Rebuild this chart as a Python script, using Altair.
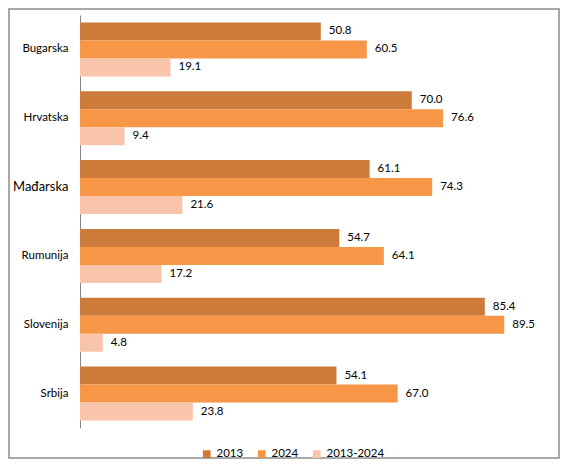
import altair as alt
import pandas as pd

# values
countries = ["Bugarska", "Hrvatska", "Mađarska", "Rumunija", "Slovenija", "Srbija"]
series = ["2013", "2024", "2013-2024"]
v2013 = [50.8, 70.0, 61.1, 54.7, 85.4, 54.1]
v2024 = [60.5, 76.6, 74.3, 64.1, 89.5, 67.0]
vdiff = [19.1, 9.4, 21.6, 17.2, 4.8, 23.8]
colors = ["#CD7B3A", "#F79646", "#F9C4A9"]

rows = []
for i, c in enumerate(countries):
    for s, vals in zip(series, [v2013, v2024, vdiff]):
        rows.append({"Country": c, "Series": s, "Value": vals[i]})
df = pd.DataFrame(rows)

font = "Lato"

base = alt.Chart(df).encode(
    y=alt.Y("Country:N", sort=countries, title=None,
            scale=alt.Scale(paddingInner=0.215, paddingOuter=0.1075),
            axis=alt.Axis(ticks=False, domainColor="#888888", domainWidth=1,
                          labelPadding=12, labelFont=font, labelColor="#000000",
                          labelFontSize={"condition": {"test": "datum.value == 'Mađarska'", "value": 13},
                                         "value": 11.5})),
    yOffset=alt.YOffset("Series:N", sort=series),
)

bars = base.mark_bar().encode(
    x=alt.X("Value:Q", scale=alt.Scale(domain=[0, 100]), axis=None),
    color=alt.Color("Series:N", sort=series,
                    scale=alt.Scale(domain=series, range=colors),
                    legend=alt.Legend(title=None, orient="none", direction="horizontal",
                                      legendX=121, legendY=433, symbolType="square",
                                      symbolSize=60, symbolStrokeWidth=0,
                                      labelFont=font, labelFontSize=11.5,
                                      labelColor="#000000", columnPadding=12,
                                      labelOffset=4)),
)

labels = base.mark_text(align="left", baseline="middle", dx=8, font=font,
                        fontSize=11.5, color="#000000").encode(
    x=alt.X("Value:Q"),
    text=alt.Text("Value:Q", format=".1f"),
)

# grey frame round the whole chart
frame = alt.Chart(alt.Data(values=[{}])).mark_rect(
    fill=None, stroke="#8C8C8C", strokeWidth=1.5
).encode(
    x=alt.value(-71), x2=alt.value(479), y=alt.value(-6), y2=alt.value(443)
)

chart = alt.layer(frame, bars, labels).properties(
    width=474, height=413,
    autosize=alt.AutoSizeParams(type="none"),
    padding={"left": 72, "top": 7, "right": 6, "bottom": 31},
).configure_view(strokeWidth=0)

chart.save("out.html", embed_options={"renderer": "svg", "actions": False})
